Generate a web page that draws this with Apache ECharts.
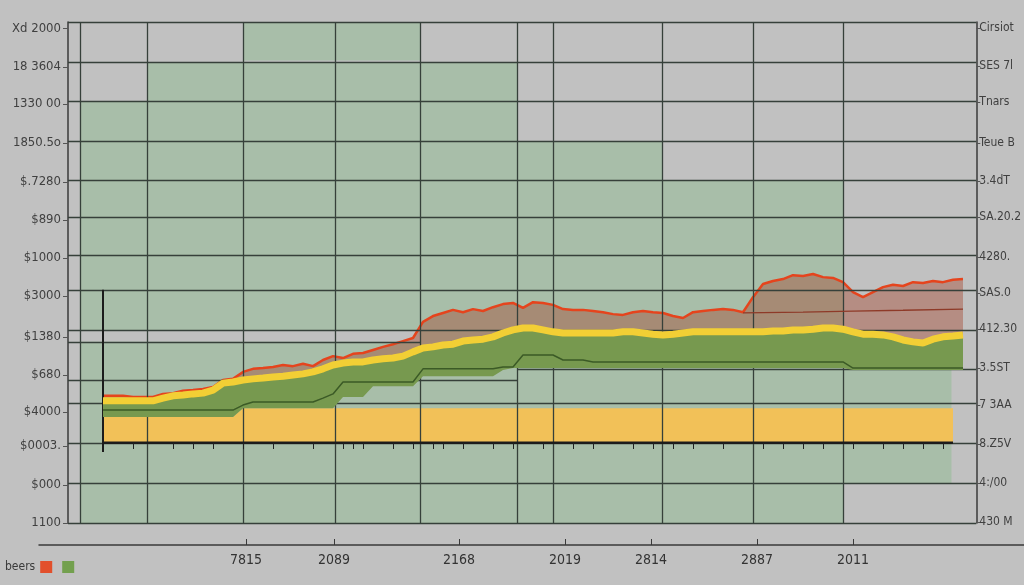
<!DOCTYPE html>
<html>
<head>
<meta charset="utf-8">
<script src="https://cdn.jsdelivr.net/npm/echarts@6/dist/echarts.min.js"></script>
<style>
  html, body { margin: 0; padding: 0; background: #c1c1c1; }
  #chart { width: 1024px; height: 585px; }
</style>
</head>
<body>
<div id="chart"></div>
<script>
// ---- axis text ----
const leftTickValues = [0, 0.99, 2.0, 2.88, 3.84, 4.83, 5.89, 6.88, 7.86, 8.85, 9.86, 10.87, 11.83, 12.84];
const leftTickLabels = ["1100", "$000", "$0003.", "$4000", "$680", "$1380", "$3000", "$1000", "$890", "$.7280", "1850.5o", "1330 00", "18 3604", "Xd 2000"];
const rightTickValues = [0.03, 1.04, 2.05, 3.06, 4.02, 5.03, 5.97, 6.9, 7.94, 8.87, 9.86, 10.92, 11.86, 12.84];
const rightTickLabels = ["430 M", "4:/00", "8.Z5V", "7 3AA", "3.5ST", "412.30", "SAS.0", "4280.", "SA.20.2", "3.4dT", "Teue B", "Tnars", "SES 7l", "Cirsiot"];
const xLabelValues = [19.41, 29.01, 42.64, 54.2, 63.58, 75.14, 85.61];
const xLabels = ["7815", "2089", "2168", "2019", "2814", "2887", "2011"];

// ---- background layout (plot units: x 0..100, y 0..13) ----
const vGridLines = [1.31, 8.72, 19.3, 29.44, 38.82, 49.51, 53.44, 65.43, 75.46, 85.39];
// [y, xFrom, xTo]
const hGridLines = [
  [13, 0, 100], [11.96, 0, 100], [10.95, 0, 100], [9.91, 0, 100], [8.9, 0, 100],
  [7.94, 0, 100], [6.95, 0, 100], [6.05, 0, 100], [5.01, 0, 100], [4.7, 0, 38.82],
  [3.71, 0, 49.51], [4.0, 49.51, 100], [3.11, 0, 100], [2.08, 0, 100], [1.04, 0, 100], [0, 0, 100]
];
// [x0, y0, x1, y1]
const greenBlocks = [
  [19.3, 12, 38.82, 13], [8.72, 10.95, 49.51, 11.96], [1.31, 9.91, 49.51, 10.95],
  [1.31, 8.9, 65.43, 9.91], [1.31, 0, 85.39, 8.9], [85.39, 1.04, 97.27, 4.0]
];
const grayBlocks = [[1.31, 4.7, 38.82, 5.01]];
const startRule = [1.84, 6.05];
const tickPoints = [3, 7, 9, 11, 14, 17, 21, 24, 25, 26, 29, 31, 33, 34, 36, 39, 41, 44, 47, 49, 53, 55, 57, 59, 62, 66, 68, 70, 72, 75, 78, 80, 82, 84];

// ---- series levels (y units), one value per sample ----
const redTop = [
  3.30, 3.30, 3.30, 3.27, 3.27, 3.27, 3.35, 3.37, 3.43, 3.45,
  3.48, 3.53, 3.71, 3.74, 3.92, 4.00, 4.02, 4.05, 4.10, 4.07,
  4.13, 4.07, 4.23, 4.33, 4.28, 4.39, 4.41, 4.49, 4.57, 4.64,
  4.72, 4.80, 5.22, 5.37, 5.45, 5.53, 5.47, 5.55, 5.50, 5.60,
  5.68, 5.71, 5.58, 5.73, 5.71, 5.66, 5.55, 5.53, 5.53, 5.50,
  5.47, 5.42, 5.40, 5.47, 5.50, 5.47, 5.45, 5.37, 5.32, 5.47,
  5.50, 5.53, 5.55, 5.53, 5.47, 5.86, 6.20, 6.28, 6.33, 6.43,
  6.41, 6.46, 6.38, 6.36, 6.25, 5.99, 5.86, 5.99, 6.12, 6.18,
  6.15, 6.25, 6.23, 6.28, 6.25, 6.31, 6.33
];
const yellowTop = [
  3.17, 3.17, 3.17, 3.17, 3.17, 3.17, 3.24, 3.30, 3.32, 3.35,
  3.37, 3.45, 3.63, 3.66, 3.71, 3.74, 3.76, 3.79, 3.81, 3.84,
  3.87, 3.92, 4.00, 4.10, 4.15, 4.18, 4.18, 4.23, 4.26, 4.28,
  4.33, 4.44, 4.54, 4.57, 4.62, 4.64, 4.72, 4.75, 4.77, 4.83,
  4.93, 5.01, 5.06, 5.06, 5.01, 4.96, 4.93, 4.93, 4.93, 4.93,
  4.93, 4.93, 4.96, 4.96, 4.93, 4.90, 4.88, 4.90, 4.93, 4.96,
  4.96, 4.96, 4.96, 4.96, 4.96, 4.96, 4.96, 4.98, 4.98, 5.01,
  5.01, 5.03, 5.06, 5.06, 5.03, 4.96, 4.90, 4.90, 4.88, 4.83,
  4.75, 4.70, 4.67, 4.77, 4.83, 4.85, 4.88
];
const greenBottom = [
  2.75, 2.75, 2.75, 2.75, 2.75, 2.75, 2.75, 2.75, 2.75, 2.75,
  2.75, 2.75, 2.75, 2.75, 2.98, 2.98, 2.98, 2.98, 2.98, 2.98,
  2.98, 2.98, 2.98, 2.98, 3.27, 3.27, 3.27, 3.55, 3.55, 3.55,
  3.55, 3.55, 3.81, 3.81, 3.81, 3.81, 3.81, 3.81, 3.81, 3.81,
  3.97, 4.02, 4.02, 4.02, 4.02, 4.02, 4.02, 4.02, 4.02, 4.02,
  4.02, 4.02, 4.02, 4.02, 4.02, 4.02, 4.02, 4.02, 4.02, 4.02,
  4.02, 4.02, 4.02, 4.02, 4.02, 4.02, 4.02, 4.02, 4.02, 4.02,
  4.02, 4.02, 4.02, 4.02, 4.02, 3.97, 3.97, 3.97, 3.97, 3.97,
  3.97, 3.97, 3.97, 3.97, 3.97, 3.97, 3.97
];
const darkGreenLine = [
  2.93, 2.93, 2.93, 2.93, 2.93, 2.93, 2.93, 2.93, 2.93, 2.93,
  2.93, 2.93, 2.93, 2.93, 3.06, 3.14, 3.14, 3.14, 3.14, 3.14,
  3.14, 3.14, 3.24, 3.35, 3.66, 3.66, 3.66, 3.66, 3.66, 3.66,
  3.66, 3.66, 4.00, 4.00, 4.00, 4.00, 4.00, 4.00, 4.00, 4.00,
  4.05, 4.05, 4.36, 4.36, 4.36, 4.36, 4.23, 4.23, 4.23, 4.18,
  4.18, 4.18, 4.18, 4.18, 4.18, 4.18, 4.18, 4.18, 4.18, 4.18,
  4.18, 4.18, 4.18, 4.18, 4.18, 4.18, 4.18, 4.18, 4.18, 4.18,
  4.18, 4.18, 4.18, 4.18, 4.18, 4.02, 4.02, 4.02, 4.02, 4.02,
  4.02, 4.02, 4.02, 4.02, 4.02, 4.02, 4.02
];
const darkRedLine = [
  null, null, null, null, null, null, null, null, null, null,
  null, null, null, null, null, null, null, null, null, null,
  null, null, null, null, null, null, null, null, null, null,
  null, null, null, null, null, null, null, null, null, null,
  null, null, null, null, null, null, null, null, null, null,
  null, null, null, null, null, null, null, null, null, null,
  null, null, null, null, 5.45, null, null, null, null, null,
  5.47, null, null, null, null, 5.50, null, null, null, null,
  5.52, null, null, null, null, null, 5.55
];
const bandTop = [
  2.75, 2.75, 2.75, 2.75, 2.75, 2.75, 2.75, 2.75, 2.75, 2.75,
  2.75, 2.75, 2.75, 2.75, 2.98, 2.98, 2.98, 2.98, 2.98, 2.98,
  2.98, 2.98, 2.98, 2.98, 2.98, 2.98, 2.98, 2.98, 2.98, 2.98,
  2.98, 2.98, 2.98, 2.98, 2.98, 2.98, 2.98, 2.98, 2.98, 2.98,
  2.98, 2.98, 2.98, 2.98, 2.98, 2.98, 2.98, 2.98, 2.98, 2.98,
  2.98, 2.98, 2.98, 2.98, 2.98, 2.98, 2.98, 2.98, 2.98, 2.98,
  2.98, 2.98, 2.98, 2.98, 2.98, 2.98, 2.98, 2.98, 2.98, 2.98,
  2.98, 2.98, 2.98, 2.98, 2.98, 2.98, 2.98, 2.98, 2.98, 2.98,
  2.98, 2.98, 2.98, 2.98, 2.98, 2.98, null
];
const bandBase = [
  2.08, 2.08, 2.08, 2.08, 2.08, 2.08, 2.08, 2.08, 2.08, 2.08,
  2.08, 2.08, 2.08, 2.08, 2.08, 2.08, 2.08, 2.08, 2.08, 2.08,
  2.08, 2.08, 2.08, 2.08, 2.08, 2.08, 2.08, 2.08, 2.08, 2.08,
  2.08, 2.08, 2.08, 2.08, 2.08, 2.08, 2.08, 2.08, 2.08, 2.08,
  2.08, 2.08, 2.08, 2.08, 2.08, 2.08, 2.08, 2.08, 2.08, 2.08,
  2.08, 2.08, 2.08, 2.08, 2.08, 2.08, 2.08, 2.08, 2.08, 2.08,
  2.08, 2.08, 2.08, 2.08, 2.08, 2.08, 2.08, 2.08, 2.08, 2.08,
  2.08, 2.08, 2.08, 2.08, 2.08, 2.08, 2.08, 2.08, 2.08, 2.08,
  2.08, 2.08, 2.08, 2.08, 2.08, 2.08, null
];

const FONT = '"Liberation Sans Narrow", "DejaVu Sans Condensed", "Roboto", sans-serif';
const GRID_COLOR = "#36403a";

const samples = redTop.map((_, i) => String(i));
const diff = (a, b) => a.map((v, i) => (v == null || b[i] == null ? null : +(v - b[i]).toFixed(3)));
const labelFor = (vals, labels) => (v) => {
  let best = 0;
  vals.forEach((t, i) => { if (Math.abs(t - v) < Math.abs(vals[best] - v)) best = i; });
  return labels[best];
};

const chart = echarts.init(document.getElementById("chart"));

const option = {
  animation: false,
  backgroundColor: "#c1c1c1",
  textStyle: { fontFamily: FONT },
  grid: [
    { left: 68, right: 39, top: 22, bottom: 62 },
    { left: 103, right: 61, top: 22, bottom: 62 },
    { left: 39, right: 0, top: 22, bottom: 40 },
    // strip whose bottom edge sits on the black band line, used for its small ticks
    { left: 103, right: 61, top: 22, bottom: 142 },
  ],
  legend: {
    left: 0,
    top: 556,
    icon: "rect",
    align: "right",
    itemWidth: 12,
    itemHeight: 12,
    itemGap: 10,
    selectedMode: false,
    textStyle: { fontSize: 12, color: "#3a3a3a", fontFamily: FONT },
    formatter: (name) => (name === "beers" ? "beers" : ""),
    data: [
      { name: "beers", itemStyle: { color: "#e2502c", borderWidth: 0 } },
      { name: "greens", itemStyle: { color: "#73a04e", borderWidth: 0 } },
    ],
  },
  xAxis: [
    { gridIndex: 0, type: "value", min: 0, max: 100, show: false },
    {
      gridIndex: 1,
      type: "category",
      data: samples,
      boundaryGap: false,
      show: false,
    },
    {
      gridIndex: 2,
      type: "value",
      min: -3.16,
      max: 104.25,
      axisLine: { show: true, lineStyle: { color: "#3a3a3a", width: 1.5 } },
      axisTick: {
        show: true,
        inside: true,
        length: 6,
        customValues: xLabelValues,
        lineStyle: { color: "#3a3a3a" },
      },
      axisLabel: {
        customValues: xLabelValues,
        formatter: labelFor(xLabelValues, xLabels),
        fontSize: 14,
        color: "#333",
        margin: 8,
        fontFamily: FONT,
      },
      splitLine: { show: false },
    },
    {
      gridIndex: 3,
      type: "category",
      data: samples,
      boundaryGap: false,
      z: 10,
      axisLine: { show: true, lineStyle: { color: "rgba(0,0,0,0)" } },
      axisTick: {
        show: true,
        length: 6,
        interval: (index) => tickPoints.includes(index),
        lineStyle: { color: "#222", width: 1 },
      },
      axisLabel: { show: false },
      splitLine: { show: false },
    },
  ],
  yAxis: [
    {
      gridIndex: 0,
      type: "value",
      position: "left",
      min: 0,
      max: 13,
      axisLine: { show: true, lineStyle: { color: "#3a3a3a", width: 1.5 } },
      axisTick: { show: true, length: 5, customValues: leftTickValues, lineStyle: { color: "#555" } },
      axisLabel: {
        customValues: leftTickValues,
        formatter: labelFor(leftTickValues, leftTickLabels),
        fontSize: 13,
        color: "#404040",
        margin: 7,
        fontFamily: FONT,
      },
      splitLine: { show: false },
    },
    {
      gridIndex: 0,
      type: "value",
      position: "right",
      min: 0,
      max: 13,
      axisLine: { show: true, lineStyle: { color: "#3a3a3a", width: 1.5 } },
      axisTick: { show: true, length: 4, customValues: rightTickValues, lineStyle: { color: "#555" } },
      axisLabel: {
        customValues: rightTickValues,
        formatter: labelFor(rightTickValues, rightTickLabels),
        fontSize: 12,
        color: "#404040",
        margin: 3,
        fontFamily: FONT,
      },
      splitLine: { show: false },
    },
    { gridIndex: 1, type: "value", min: 0, max: 13, show: false },
    { gridIndex: 2, type: "value", min: 0, max: 1, show: false },
    { gridIndex: 3, type: "value", min: 0, max: 1, show: false },
  ],
  series: [
    {
      name: "backdrop",
      type: "line",
      xAxisIndex: 0,
      yAxisIndex: 0,
      data: [],
      z: 0,
      silent: true,
      markArea: {
        silent: true,
        data: [
          ...greenBlocks.map(([x0, y0, x1, y1]) => [
            { coord: [x0, y0], itemStyle: { color: "#a8bea9" } },
            { coord: [x1, y1] },
          ]),
          ...grayBlocks.map(([x0, y0, x1, y1]) => [
            { coord: [x0, y0], itemStyle: { color: "#c0c0c0" } },
            { coord: [x1, y1] },
          ]),
        ],
      },
    },
    {
      name: "gridlines",
      type: "line",
      xAxisIndex: 0,
      yAxisIndex: 0,
      data: [],
      z: 1,
      silent: true,
      markLine: {
        silent: true,
        symbol: "none",
        label: { show: false },
        lineStyle: { color: GRID_COLOR, width: 1.3, type: "solid" },
        data: [
          ...vGridLines.map((u) => ({ xAxis: u })),
          ...hGridLines.map(([v, u0, u1]) => [{ coord: [u0, v] }, { coord: [u1, v] }]),
        ],
      },
    },
    // lower yellow band
    {
      name: "bandBase",
      type: "line",
      xAxisIndex: 1,
      yAxisIndex: 2,
      stack: "band",
      data: bandBase,
      symbol: "none",
      z: 6,
      silent: true,
      lineStyle: { color: "#1c1c1c", width: 2.5 },
      markLine: {
        silent: true,
        symbol: "none",
        label: { show: false },
        lineStyle: { color: "#1c1c1c", width: 2, type: "solid" },
        data: [[{ coord: [0, startRule[0]] }, { coord: [0, startRule[1]] }]],
      },
    },
    {
      name: "band",
      type: "line",
      xAxisIndex: 1,
      yAxisIndex: 2,
      stack: "band",
      data: diff(bandTop, bandBase),
      symbol: "none",
      z: 3,
      silent: true,
      lineStyle: { width: 0, opacity: 0 },
      areaStyle: { color: "#f2c158", opacity: 1 },
    },
    // stacked upper areas
    {
      name: "base",
      type: "line",
      xAxisIndex: 1,
      yAxisIndex: 2,
      stack: "a",
      data: greenBottom,
      symbol: "none",
      z: 3,
      silent: true,
      lineStyle: { opacity: 0 },
    },
    {
      name: "greens",
      type: "line",
      xAxisIndex: 1,
      yAxisIndex: 2,
      stack: "a",
      data: diff(yellowTop, greenBottom),
      symbol: "none",
      z: 5,
      itemStyle: { color: "#73a04e" },
      lineStyle: { color: "#f2cf35", width: 7 },
      areaStyle: { color: "#77994f", opacity: 1 },
    },
    {
      name: "beers",
      type: "line",
      xAxisIndex: 1,
      yAxisIndex: 2,
      stack: "a",
      data: diff(redTop, yellowTop),
      symbol: "none",
      z: 4,
      itemStyle: { color: "#e2502c" },
      lineStyle: { color: "#e5441d", width: 2.5 },
      areaStyle: { color: "rgba(165, 70, 45, 0.6)" },
    },
    {
      name: "darkGreen",
      type: "line",
      xAxisIndex: 1,
      yAxisIndex: 2,
      data: darkGreenLine,
      symbol: "none",
      z: 6,
      silent: true,
      lineStyle: { color: "#3b5a26", width: 1.5 },
    },
    {
      name: "darkRed",
      type: "line",
      xAxisIndex: 1,
      yAxisIndex: 2,
      data: darkRedLine,
      connectNulls: true,
      symbol: "none",
      z: 6,
      silent: true,
      lineStyle: { color: "#8e3a28", width: 1.3 },
    },
  ],
};

chart.setOption(option);
</script>
</body>
</html>
